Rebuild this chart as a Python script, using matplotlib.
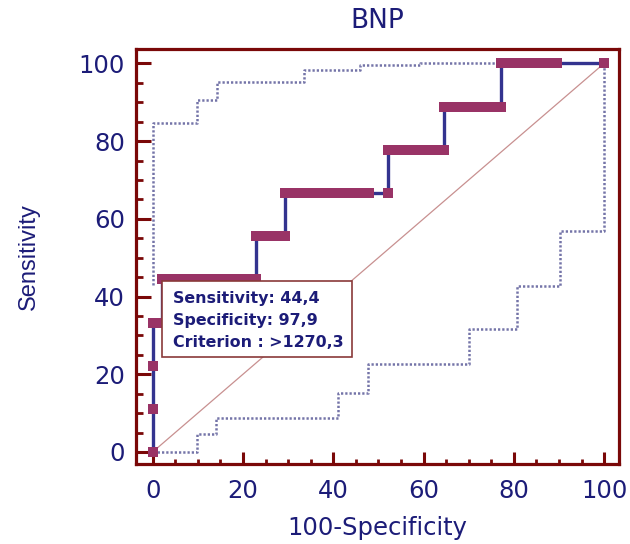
import matplotlib
matplotlib.use("Agg")
import matplotlib.pyplot as plt
from matplotlib.patches import Rectangle
from matplotlib.ticker import MultipleLocator

# ---- data ----
roc_fpr = [0.0, 0.0, 0.0, 0.0, 2.1,
           2.1, 4.2, 6.3, 8.3, 10.4, 12.5, 14.6, 16.7, 18.8, 20.8, 22.9,
           22.9, 25.0, 27.1, 29.2,
           29.2, 31.3, 33.3, 35.4, 37.5, 39.6, 41.7, 43.8, 45.8, 47.9, 52.1,
           52.1, 54.2, 56.3, 58.3, 60.4, 62.5, 64.6,
           64.6, 66.7, 68.8, 70.8, 72.9, 75.0, 77.1,
           77.1, 79.2, 81.3, 83.3, 85.4, 87.5, 89.6, 100.0]
roc_tpr = [0.0, 11.1, 22.2, 33.3, 33.3,
           44.4, 44.4, 44.4, 44.4, 44.4, 44.4, 44.4, 44.4, 44.4, 44.4, 44.4,
           55.6, 55.6, 55.6, 55.6,
           66.7, 66.7, 66.7, 66.7, 66.7, 66.7, 66.7, 66.7, 66.7, 66.7, 66.7,
           77.8, 77.8, 77.8, 77.8, 77.8, 77.8, 77.8,
           88.9, 88.9, 88.9, 88.9, 88.9, 88.9, 88.9,
           100.0, 100.0, 100.0, 100.0, 100.0, 100.0, 100.0, 100.0]

upper_x = [0.0, 0.0, 9.9, 9.9, 14.3, 14.3, 33.5, 33.5, 45.9, 45.9, 59.2, 59.2, 100.0]
upper_y = [43.0, 84.6, 84.6, 90.7, 90.7, 95.3, 95.3, 98.4, 98.4, 99.7, 99.7, 100.0, 100.0]

lower_x = [0.0, 9.9, 9.9, 14.1, 14.1, 41.0, 41.0, 47.7, 47.7, 70.0, 70.0, 80.7, 80.7, 90.2, 90.2, 100.0, 100.0]
lower_y = [0.0, 0.0, 4.6, 4.6, 8.8, 8.8, 15.2, 15.2, 22.6, 22.6, 31.6, 31.6, 42.7, 42.7, 56.9, 56.9, 100.0]

diag_x = [0, 100]
diag_y = [0, 100]

info_lines = ["Sensitivity: 44,4", "Specificity: 97,9", "Criterion : >1270,3"]
title = "BNP"
xlabel = "100-Specificity"
ylabel = "Sensitivity"

# ---- style ----
NAVY = "#1c1c78"
SPINE = "#7a0808"
MARK = "#993366"
LINE = "#33338f"
BAND = "#7474a8"
DIAG = "#c89090"

fig = plt.figure(figsize=(6.3, 5.44), dpi=100)
W, H = 630, 544
l, r, t, b = 136, 619, 49, 464
ax = fig.add_axes([l / W, 1 - b / H, (r - l) / W, (b - t) / H])

ax.set_xlim(-3.7, 103.3)
ax.set_ylim(-3.1, 103.7)

ax.plot(diag_x, diag_y, color=DIAG, lw=0.9, zorder=1)
ax.plot(upper_x, upper_y, color=BAND, lw=1.8, linestyle=(0, (0.9, 0.8)), zorder=2)
ax.plot(lower_x, lower_y, color=BAND, lw=1.8, linestyle=(0, (0.9, 0.8)), zorder=2)
ax.plot(roc_fpr, roc_tpr, color=LINE, lw=2.4, zorder=3)
ax.plot(roc_fpr, roc_tpr, linestyle="none", marker="s", ms=7.3,
        mfc=MARK, mec=MARK, mew=0, zorder=4)

# info box
bx0, bx1, by0, by1 = 2.0, 44.1, 24.4, 44.0
ax.add_patch(Rectangle((bx0, by0), bx1 - bx0, by1 - by0, facecolor="white",
                       edgecolor="#8a3a3a", lw=1.2, zorder=5))
for i, s in enumerate(info_lines):
    ax.text(4.4, 39.6 - i * 5.7, s, color=NAVY, fontsize=11.4, fontweight="bold",
            family="DejaVu Sans", va="center", ha="left", zorder=6)

for side in ["left", "right", "top", "bottom"]:
    ax.spines[side].set_color(SPINE)
    ax.spines[side].set_linewidth(2.3)

ax.xaxis.set_major_locator(MultipleLocator(20))
ax.xaxis.set_minor_locator(MultipleLocator(5))
ax.yaxis.set_major_locator(MultipleLocator(20))
ax.yaxis.set_minor_locator(MultipleLocator(5))

ax.tick_params(axis="x", which="major", direction="in", length=8.5, width=2.2,
               color=SPINE, labelcolor=NAVY, labelsize=17.5, pad=11)
ax.tick_params(axis="x", which="minor", direction="in", length=3.8, width=2.0, color=SPINE)
ax.tick_params(axis="y", which="major", direction="in", length=10.5, width=2.2,
               color=SPINE, labelcolor=NAVY, labelsize=17.5, pad=8)
ax.tick_params(axis="y", which="minor", direction="in", length=5.2, width=2.0, color=SPINE)
ax.tick_params(top=False, right=False, which="both")

ax.set_title(title, color=NAVY, fontsize=19, pad=15)
ax.set_xlabel(xlabel, color=NAVY, fontsize=17.5, labelpad=9)
ax.set_ylabel(ylabel, color=NAVY, fontsize=17, family="Liberation Sans")
ax.yaxis.set_label_coords(-0.2, 0.5)

fig.savefig("out.png", dpi=100)
